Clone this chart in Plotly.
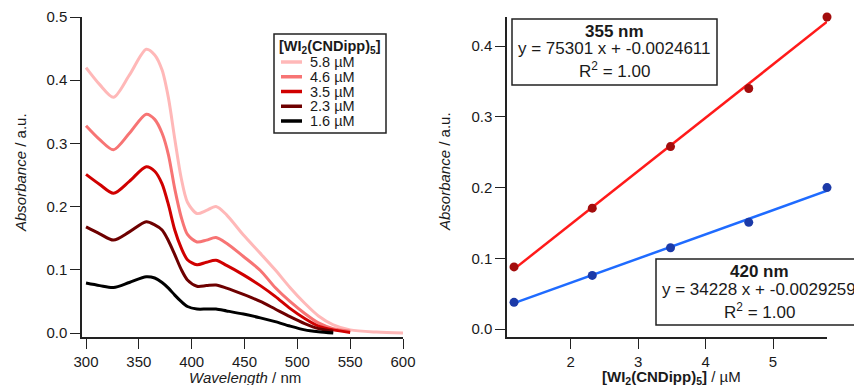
import plotly.graph_objects as go

# ---------------- data ----------------
wavelength = [300, 313, 326, 341, 357, 365, 372, 378, 384, 390, 396, 405, 414, 423,
              433, 449, 465, 479, 493, 507, 520, 534, 550, 575, 600]

abs_5_8 = [0.420, 0.393, 0.373, 0.408, 0.449, 0.440, 0.416, 0.372, 0.307, 0.246, 0.207,
           0.189, 0.194, 0.200, 0.187, 0.155, 0.126, 0.100, 0.072, 0.047, 0.027, 0.013,
           0.005, 0.0015, 0.000]
abs_4_6 = [0.328, 0.306, 0.290, 0.316, 0.346, 0.338, 0.316, 0.282, 0.228, 0.184, 0.156,
           0.144, 0.147, 0.151, 0.142, 0.121, 0.099, 0.072, 0.050, 0.031, 0.016, 0.007,
           0.003]
abs_3_5 = [0.251, 0.235, 0.221, 0.240, 0.263, 0.256, 0.236, 0.203, 0.163, 0.135, 0.116,
           0.108, 0.112, 0.115, 0.107, 0.092, 0.075, 0.058, 0.039, 0.023, 0.011, 0.005,
           0.001]
abs_2_3 = [0.168, 0.157, 0.147, 0.160, 0.176, 0.171, 0.163, 0.146, 0.124, 0.101, 0.084,
           0.074, 0.075, 0.076, 0.071, 0.061, 0.050, 0.038, 0.026, 0.015, 0.007, 0.003]
abs_1_6 = [0.079, 0.075, 0.072, 0.080, 0.089, 0.087, 0.080, 0.071, 0.060, 0.050, 0.042,
           0.038, 0.038, 0.038, 0.035, 0.030, 0.024, 0.018, 0.011, 0.005, 0.002, 0.000]

series_labels = ["5.8 µM", "4.6 µM", "3.5 µM", "2.3 µM", "1.6 µM"]
series_values = [abs_5_8, abs_4_6, abs_3_5, abs_2_3, abs_1_6]
series_colors = ["#ffb8b8", "#f77474", "#d00000", "#6e0000", "#000000"]

conc_uM = [1.16, 2.32, 3.48, 4.64, 5.80]
abs_355 = [0.088, 0.171, 0.258, 0.340, 0.441]
abs_420 = [0.038, 0.076, 0.115, 0.151, 0.200]

slope_355, icpt_355 = 75301, -0.0024611
slope_420, icpt_420 = 34228, -0.0029259

x_ticks_left = [300, 350, 400, 450, 500, 550, 600]
y_ticks_left = [0.0, 0.1, 0.2, 0.3, 0.4, 0.5]
x_ticks_right = [2, 3, 4, 5]
y_ticks_right = [0.0, 0.1, 0.2, 0.3, 0.4]

# ---------------- layout helpers ----------------
W, H = 854, 385
FONT = "Liberation Sans, Arial, Helvetica, sans-serif"
TXT = "#1a1a1a"


def fx(px):
    return px / W


def fy(py):
    return 1 - py / H


fig = go.Figure()

for lab, vals, col in zip(series_labels, series_values, series_colors):
    fig.add_trace(go.Scatter(
        x=wavelength[:len(vals)], y=vals, mode="lines", name=lab,
        line=dict(color=col, width=3, shape="spline", smoothing=0.8),
        xaxis="x", yaxis="y", showlegend=False))

# right panel: fit lines then points
fit_x = [conc_uM[0], conc_uM[-1]]
fig.add_trace(go.Scatter(
    x=fit_x, y=[slope_355 * c * 1e-6 + icpt_355 for c in fit_x], mode="lines",
    line=dict(color="#ff1a1a", width=2.5), xaxis="x2", yaxis="y2", showlegend=False))
fig.add_trace(go.Scatter(
    x=fit_x, y=[slope_420 * c * 1e-6 + icpt_420 for c in fit_x], mode="lines",
    line=dict(color="#1f6bff", width=2.5), xaxis="x2", yaxis="y2", showlegend=False))
fig.add_trace(go.Scatter(
    x=conc_uM, y=abs_355, mode="markers", cliponaxis=False,
    marker=dict(color="#a30d0d", size=9), xaxis="x2", yaxis="y2", showlegend=False))
fig.add_trace(go.Scatter(
    x=conc_uM, y=abs_420, mode="markers", cliponaxis=False,
    marker=dict(color="#1c3aa8", size=9), xaxis="x2", yaxis="y2", showlegend=False))

axis_common = dict(showline=True, linecolor="#222", linewidth=1.5, mirror=False,
                   ticks="outside", ticklen=10, tickwidth=1.2, tickcolor="#222",
                   showgrid=False, zeroline=False, automargin=False,
                   tickfont=dict(family=FONT, size=15, color=TXT))

fig.update_layout(
    template="none",
    width=W, height=H, margin=dict(l=0, r=0, t=0, b=0, pad=0),
    paper_bgcolor="white", plot_bgcolor="white",
    font=dict(family=FONT, size=15, color=TXT),
    xaxis=dict(domain=[fx(82), fx(403)], range=[296.2, 600], tickvals=x_ticks_left,
               anchor="y", **axis_common),
    yaxis=dict(domain=[fy(337), fy(17)], range=[-0.0063, 0.5], tickvals=y_ticks_left,
               tickformat=".1f", anchor="x", **axis_common),
    xaxis2=dict(domain=[fx(507), fx(827)], range=[1.056, 5.8], tickvals=x_ticks_right,
                anchor="y2", **axis_common),
    yaxis2=dict(domain=[fy(337), fy(17)], range=[-0.011, 0.441], tickvals=y_ticks_right,
                tickformat=".1f", anchor="x2", **axis_common),
)

shapes = []
ann = []


def text(px, py, s, size=15, xanchor="center", angle=0):
    ann.append(dict(x=fx(px), y=fy(py), xref="paper", yref="paper", text=s,
                    showarrow=False, xanchor=xanchor, yanchor="middle", textangle=angle,
                    font=dict(family=FONT, size=size, color=TXT)))


# axis titles
text(20, 173, "<i>Absorbance</i> / a.u.", angle=-90)
text(245, 377, "<i>Wavelength</i> / nm")
text(445, 172, "<i>Absorbance</i> / a.u.", angle=-90)
text(671, 377, "<b>[WI<sub>2</sub>(CNDipp)<sub>5</sub>]</b> / µM")

# manual legend (left panel)
shapes.append(dict(type="rect", xref="paper", yref="paper", x0=fx(274), x1=fx(386),
                   y0=fy(133), y1=fy(34), line=dict(color="#222", width=1.5),
                   fillcolor="white", layer="above"))
text(330, 47, "<b>[WI<sub>2</sub>(CNDipp)<sub>5</sub>]</b>", size=14.5)
for i, (lab, col) in enumerate(zip(series_labels, series_colors)):
    yy = 62 + 14.75 * i
    shapes.append(dict(type="line", xref="paper", yref="paper", x0=fx(281), x1=fx(302),
                       y0=fy(yy), y1=fy(yy), line=dict(color=col, width=3.5)))
    text(308, yy, lab, size=14.5, xanchor="left")

# fit annotation boxes (right panel)
shapes.append(dict(type="rect", xref="paper", yref="paper", x0=fx(512), x1=fx(717),
                   y0=fy(85), y1=fy(19), line=dict(color="#222", width=1.5),
                   fillcolor="white", layer="above"))
text(614, 31, "<b>355 nm</b>", size=17)
text(614, 49, f"y = {slope_355} x + {icpt_355}", size=17)
text(614, 70, "R<sup>2</sup> = 1.00", size=17)

shapes.append(dict(type="rect", xref="paper", yref="paper", x0=fx(656), x1=fx(862),
                   y0=fy(325), y1=fy(259), line=dict(color="#222", width=1.5),
                   fillcolor="white", layer="above"))
text(759, 271, "<b>420 nm</b>", size=17)
text(759, 289, f"y = {slope_420} x + {icpt_420}", size=17)
text(759, 311, "R<sup>2</sup> = 1.00", size=17)

fig.update_layout(shapes=shapes, annotations=ann)
fig.write_html(
    "out.html",
    config={"displayModeBar": False},
    post_script="document.body.style.margin='0';document.body.style.overflow='hidden';",
)
